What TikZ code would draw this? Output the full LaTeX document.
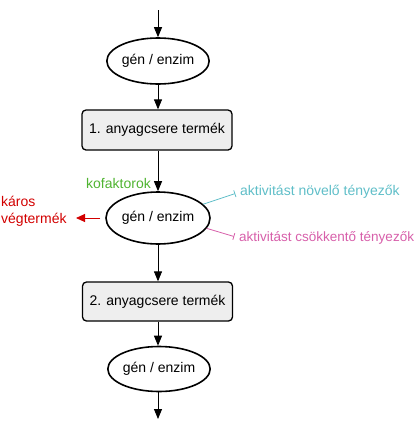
\documentclass[tikz,border=0pt]{standalone}
\usepackage{fontspec}
\setmainfont{Liberation Sans}
\usetikzlibrary{arrows.meta,shapes.geometric}
\definecolor{tealc}{RGB}{95,190,200}
\definecolor{pinkc}{RGB}{215,95,170}
\definecolor{greenc}{RGB}{80,180,50}
\definecolor{redc}{RGB}{210,0,0}
\definecolor{boxfill}{RGB}{238,238,238}
\begin{document}
\begin{tikzpicture}[x=1pt,y=-1pt,
  every node/.style={font=\fontsize{14}{17}\selectfont},
  gene/.style={ellipse,draw,line width=1.6pt,inner sep=0pt,fill=white},
  prod/.style={rectangle,rounded corners=4pt,draw,line width=1.3pt,fill=boxfill,inner sep=0pt,minimum width=150pt,minimum height=40pt},
  flow/.style={-{Triangle[width=8pt,length=10pt]},line width=0.9pt},
  lab/.style={inner sep=0pt}
]
\useasboundingbox (0,0) rectangle (418,421);
\coordinate (top) at (158,10);
\coordinate (bot) at (158,419);
\node[gene,minimum width=100pt,minimum height=46pt] (e1) at (158,61) {gén / enzim};
\node[prod] (p1) at (157,130) {1. anyagcsere termék};
\node[gene,minimum width=104pt,minimum height=52pt] (e2) at (158,218) {gén / enzim};
\node[prod,minimum height=39pt] (p2) at (157.5,301.5) {2. anyagcsere termék};
\node[gene,minimum width=100pt,minimum height=45pt] (e3) at (159,369) {gén / enzim};
\draw[flow] (top) -- (e1.north);
\draw[flow] (e1.south) -- (p1.north -| e1.south);
\draw[flow] (p1.south -| e2.north) -- (e2.north);
\draw[flow] (e2.south) -- (p2.north -| e2.south);
\draw[flow] (p2.south -| e2.south) -- (e3.north -| e2.south);
\draw[flow] (e3.south -| e2.south) -- (bot);
\node[lab,text=greenc,anchor=east] (kof) at (151,183) {kofaktorok};
\node[lab,text=redc,anchor=west,align=left] (kar) at (1,211.5) {káros\\végtermék};
\coordinate (kt) at (76,218);
\draw[-{Triangle[width=8pt,length=9pt]},draw=redc,fill=redc,line width=0.9pt,shorten <=5pt] (e2.west) -- (kt);
\node[lab,text=tealc,anchor=west] (tn) at (240,192) {aktivitást növelő tényezők};
\node[lab,text=pinkc,anchor=west,font=\fontsize{13.5}{16}\selectfont] (pn) at (239,238) {aktivitást csökkentő tényezők};
\draw[tealc,line width=0.8pt,-{Bar[width=7pt]},shorten >=5pt] (e2.17) -- (tn.west);
\draw[pinkc,line width=0.8pt,-{Bar[width=7pt]},shorten >=5pt] (e2.-12) -- (pn.west);
\end{tikzpicture}
\end{document}
